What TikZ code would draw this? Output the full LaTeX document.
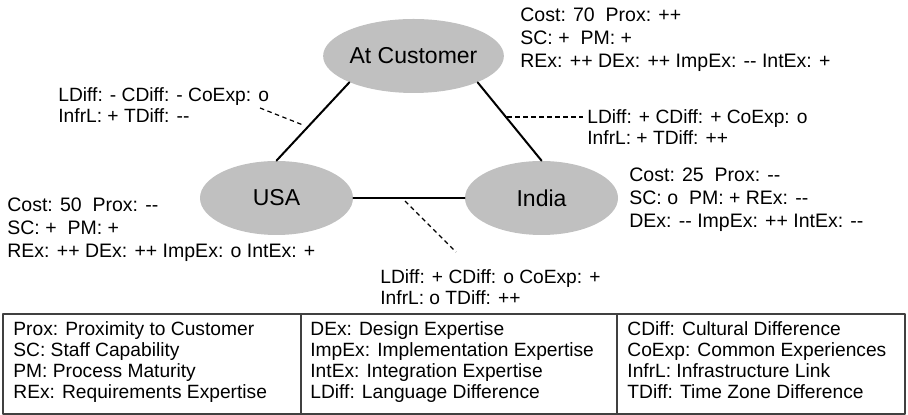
\documentclass[tikz,border=0pt]{standalone}
\usepackage{fontspec}
\setmainfont{Liberation Sans}[Ligatures=TeXOff]
\usetikzlibrary{arrows.meta,shapes.geometric}
\definecolor{siteGray}{RGB}{192,192,192}
\definecolor{gridGray}{RGB}{64,64,64}
\newcommand\sitesize{\fontsize{11.5}{13}\selectfont}
\newcommand\infosize{\fontsize{9.75}{11.5}\selectfont}
\newcommand\linksize{\fontsize{9.6}{10.5}\selectfont}
\tikzset{
  every picture/.style={line join=round, line cap=round, >=Stealth},
  site/.style={ellipse, fill=siteGray, minimum width=76.5pt, minimum height=37pt, inner sep=0pt, font=\sitesize},
  info/.style={anchor=north west, inner sep=0pt, align=left, font=\infosize},
  linkinfo/.style={anchor=north west, inner sep=0pt, align=left, font=\linksize},
  link/.style={line width=1pt},
  leader/.style={line width=0.6pt, line cap=butt, dash pattern=on 2.25pt off 1.75pt},
  grid/.style={line width=1pt, draw=gridGray, line cap=butt},
}

\begin{document}
\begin{tikzpicture}[x=0.5pt,y=-0.5pt]
\useasboundingbox (0,0) rectangle (908,415);
% sites
\node[site] (cust) at (413.5,56) {At Customer};
\node[site] (usa) at (276.5,198) {USA};
\node[site] (india) at (541.5,198) {India};
\draw[link] (usa.north) -- (cust.south west);
\draw[link] (cust.south east) -- (india.north);
\draw[link] (usa.east) -- (india.west);
% site ratings
\node[info] (custinfo) at (520,7) {Cost: 70\ \ Prox: ++\\SC: +\ \ PM: +\\REx: ++ DEx: ++ ImpEx: -- IntEx: +};
\node[info] (usainfo) at (7,197) {Cost: 50\ \ Prox: --\\SC: +\ \ PM: +\\REx: ++ DEx: ++ ImpEx: o IntEx: +};
\node[info] (indiainfo) at (629,167) {Cost: 25\ \ Prox: --\\SC: o\ \ PM: + REx: --\\DEx: -- ImpEx: ++ IntEx: --};
% link ratings
\node[linkinfo] (leftlink) at (58,87) {LDiff: - CDiff: - CoExp: o\\InfrL: + TDiff: --};
\node[linkinfo] (rightlink) at (587,109) {LDiff: + CDiff: + CoExp: o\\InfrL: + TDiff: ++};
\node[linkinfo] (bottomlink) at (380,269) {LDiff: + CDiff: o CoExp: +\\InfrL: o TDiff: ++};
\coordinate (lefttip) at (303,125);
\coordinate (righttip) at (507,117);
\coordinate (bottomtip) at (405,201);
\draw[leader] ([shift={(202,21)}]leftlink.north west) -- (lefttip);
\draw[leader] (righttip) -- ([shift={(-4,8)}]rightlink.north west);
\draw[leader] (bottomtip) -- ([shift={(76,-17)}]bottomlink.north west);
% legend
\draw[grid] (3,414) -- (3,314) -- (905,314) -- (905,414) -- cycle;
\draw[grid] (301,314) -- (301,414);
\draw[grid] (617,314) -- (617,414);
\node[linkinfo] (legendA) at (13,321) {Prox: Proximity to Customer\\SC: Staff Capability\\PM: Process Maturity\\REx: Requirements Expertise};
\node[linkinfo] (legendB) at (310,321) {DEx: Design Expertise\\ImpEx: Implementation Expertise\\IntEx: Integration Expertise\\LDiff: Language Difference};
\node[linkinfo] (legendC) at (627,321) {CDiff: Cultural Difference\\CoExp: Common Experiences\\InfrL: Infrastructure Link\\TDiff: Time Zone Difference};
\end{tikzpicture}
\end{document}
